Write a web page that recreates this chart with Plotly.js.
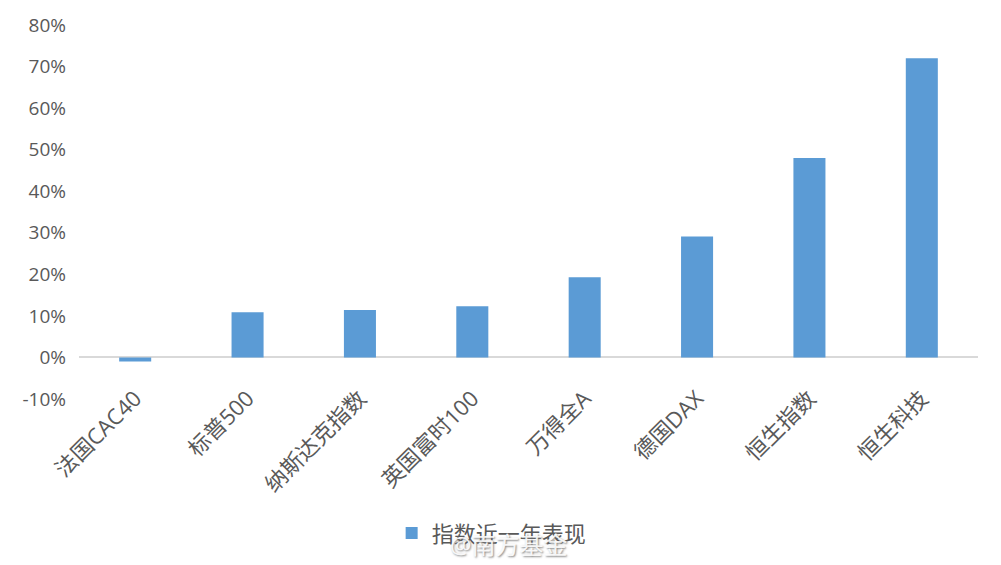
<!DOCTYPE html>
<html>
<head>
<meta charset="utf-8">
<script src="https://cdn.plot.ly/plotly-3.0.1.min.js"></script>
<style>html,body{margin:0;padding:0;background:#fff;}#chart{width:1001px;height:565px;}</style>
</head>
<body>
<div id="chart"></div>
<script>
const categories = ["法国CAC40", "标普500", "纳斯达克指数", "英国富时100", "万得全A", "德国DAX", "恒生指数", "恒生科技"];
const values = [-0.010, 0.109, 0.114, 0.123, 0.193, 0.291, 0.480, 0.720];
const seriesName = "指数近一年表现";
const tickVals = [-0.1, 0, 0.1, 0.2, 0.3, 0.4, 0.5, 0.6, 0.7, 0.8];
const tickText = ["-10%", "0%", "10%", "20%", "30%", "40%", "50%", "60%", "70%", "80%"];

const FONT = "'Open Sans', 'Noto Sans CJK SC', sans-serif";
const trace = {
  type: 'bar', x: categories, y: values, name: seriesName,
  marker: {color: '#5b9bd5'}, showlegend: true
};
const layout = {
  width: 1001, height: 565,
  margin: {l: 79, r: 23, t: 25, b: 165},
  paper_bgcolor: '#fff', plot_bgcolor: '#fff',
  font: {family: FONT, color: '#595959', size: 19},
  bargap: 0.715,
  xaxis: {
    type: 'category', tickangle: -45, showline: false, showgrid: false, zeroline: false,
    ticks: '', tickfont: {size: 22, color: '#595959', family: FONT},
    anchor: 'free', position: 0.05
  },
  yaxis: {
    range: [-0.1, 0.8], tickvals: tickVals, ticktext: tickText,
    showgrid: false, showline: false, zeroline: true, zerolinecolor: '#d9d9d9', zerolinewidth: 2,
    ticks: '', ticklabelstandoff: 12, tickfont: {size: 19, color: '#595959', family: FONT}
  },
  legend: {
    orientation: 'h', x: 0.459, xanchor: 'center', y: -0.355, yanchor: 'middle',
    font: {size: 22, color: '#595959', family: FONT}
  },
  annotations: [{
    xref: 'paper', yref: 'paper', x: 0.478, y: -0.39, xanchor: 'center', yanchor: 'middle',
    text: '@南方基金', showarrow: false,
    font: {size: 24, color: 'rgba(255,255,255,0.9)', family: FONT, shadow: '1px 1px 2px #777'}
  }]
};
Plotly.newPlot('chart', [trace], layout, {displayModeBar: false, staticPlot: true});
</script>
</body>
</html>
